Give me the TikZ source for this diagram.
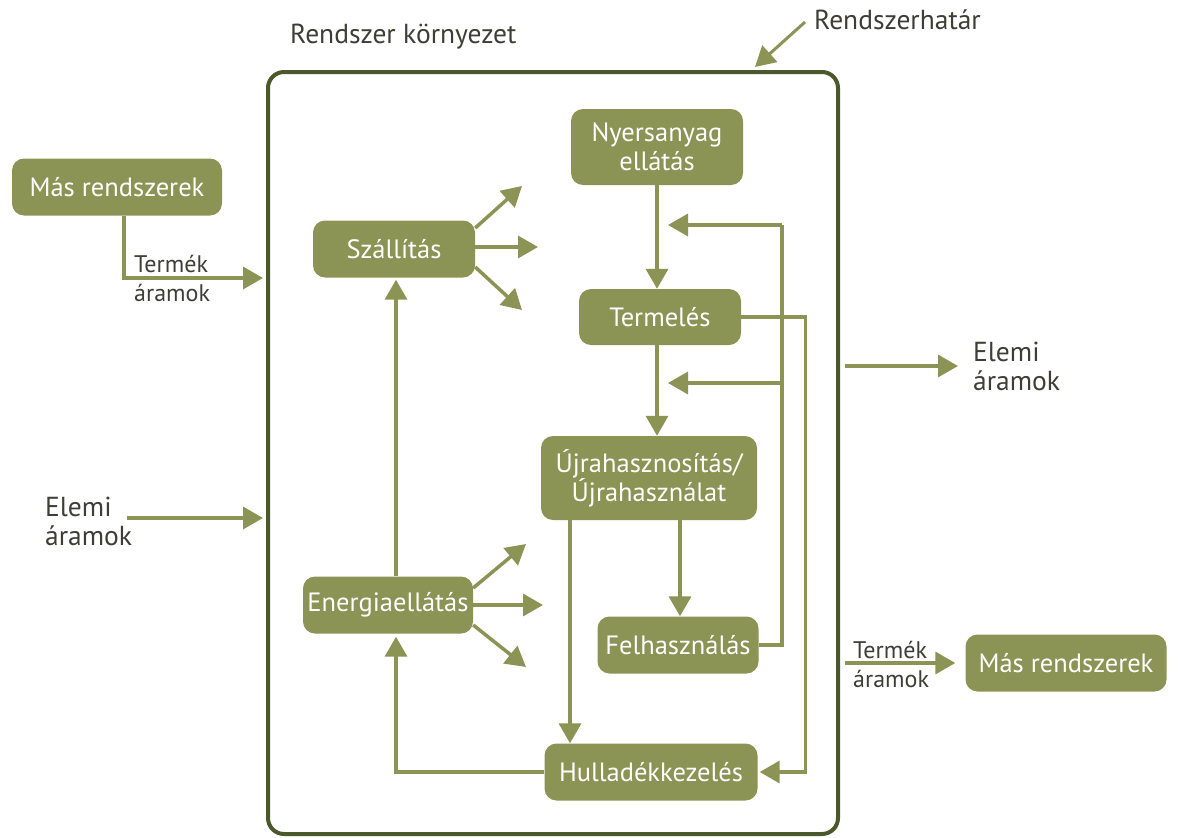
\documentclass[tikz,border=0pt]{standalone}
\usepackage{fontspec}
\setmainfont{PT Sans}
\usetikzlibrary{arrows.meta}
\definecolor{olivebox}{RGB}{139,148,84}
\definecolor{frameg}{RGB}{74,88,44}
\definecolor{txtc}{RGB}{62,62,54}
\begin{document}
\begin{tikzpicture}[x=1pt,y=-1pt,
  box/.style={fill=olivebox, text=white, rounded corners=12pt,
    font=\fontsize{26.5}{29}\selectfont, align=center, inner sep=0pt},
  flow/.style={draw=olivebox, line width=3.5pt, -{Triangle[width=22pt,length=20pt]}},
  plain/.style={draw=olivebox, line width=3.5pt},
  lbl/.style={text=txtc, font=\fontsize{27.5}{29}\selectfont, align=left, inner sep=0pt},
  slbl/.style={text=txtc, font=\fontsize{24}{26}\selectfont, inner sep=0pt}]
\useasboundingbox (0,0) rectangle (1179,838);

% frame
\node[draw=frameg, line width=4pt, rounded corners=16pt, minimum width=570pt,
  minimum height=762pt, inner sep=0pt] (frame) at (553,453) {};

% titles
\node[lbl, anchor=west] (env) at (290,37) {Rendszer környezet};
\node[lbl, anchor=west] (hat) at (814,20) {Rendszerhatár};
\coordinate (hatend) at (755,67);
\draw[flow, line width=3pt] ([xshift=-9pt,yshift=-2pt]hat.west) -- (hatend);

% boxes
\node[box, minimum width=210pt, minimum height=57pt] (mas1) at (117,187) {Más rendszerek};
\node[box, minimum width=162pt, minimum height=57pt] (szall) at (394,249) {Szállítás};
\node[box, minimum width=172pt, minimum height=76pt] (nyers) at (657,147) {Nyersanyag\\ellátás};
\node[box, minimum width=162pt, minimum height=56pt] (term) at (660,317) {Termelés};
\node[box, minimum width=216pt, minimum height=84pt] (ujra) at (649,478) {Újrahasznosítás/\\Újrahasználat};
\node[box, minimum width=161pt, minimum height=57pt] (felh) at (678,645) {Felhasználás};
\node[box, minimum width=213pt, minimum height=57pt] (hull) at (651,772) {Hulladékkezelés};
\node[box, minimum width=170pt, minimum height=57pt] (energ) at (388,605) {Energiaellátás};
\node[box, minimum width=201pt, minimum height=57pt] (mas2) at (1066,663) {Más rendszerek};

% left inputs
\coordinate (yl1) at (0,278);
\draw[flow] ([xshift=7pt]mas1.south) |- ([xshift=-3pt]frame.west |- yl1);
\node[slbl, anchor=west] (tl1) at (134,264) {Termék};
\node[slbl, anchor=west] (tl2) at (134,293) {áramok};

\node[lbl, anchor=west] (el1) at (45,521) {Elemi\\áramok};
\coordinate (yl2) at (127,518);
\draw[flow] (yl2) -- ([xshift=-3pt]frame.west |- yl2);

% right outputs
\node[lbl, anchor=west] (el2) at (973,366) {Elemi\\áramok};
\coordinate (yr1) at (0,366);
\draw[flow] ([xshift=5pt]frame.east |- yr1) -- ([xshift=-15pt]el2.west |- yr1);
\draw[flow] ([xshift=5pt]frame.east |- mas2.west) -- ([xshift=-10pt]mas2.west);
\node[slbl, anchor=west] (tr1) at (853,650) {Termék};
\node[slbl, anchor=west] (tr2) at (853,679) {áramok};

% Szállítás fan
\coordinate (s1) at (522,186);
\coordinate (s2) at (538,247);
\coordinate (s3) at (522,310);
\draw[flow] ([yshift=21pt]szall.east) -- (s1);
\draw[flow] (szall.east |- s2) -- (s2);
\draw[flow] ([yshift=-18pt]szall.east) -- (s3);

% Energia fan
\coordinate (e1) at (526,544);
\coordinate (e2) at (543,605);
\coordinate (e3) at (526,667);
\draw[flow] ([yshift=17pt]energ.east) -- (e1);
\draw[flow] (energ.east |- e2) -- (e2);
\draw[flow] ([yshift=-20pt]energ.east) -- (e3);

% vertical energy -> transport
\coordinate (v1) at (396,0);
\draw[flow] (energ.north -| v1) -- ([yshift=-2pt]szall.south -| v1);
\draw[flow] (hull.west) -| ([yshift=-3pt]energ.south -| v1);

% main chain
\coordinate (cx) at (657,0);
\draw[flow] (nyers.south -| cx) -- (term.north -| cx);
\draw[flow] (term.south -| cx) -- (ujra.north -| cx);
\coordinate (cf) at (680,0);
\draw[flow] (ujra.south -| cf) -- (felh.north -| cf);
\coordinate (ch) at (570,0);
\draw[flow] (ujra.south -| ch) -- (hull.north -| ch);

% feedback from use
\coordinate (fbt) at (782,225);
\coordinate (fbm) at (782,383);
\coordinate (t1) at (668,225);
\coordinate (t2) at (668,383);
\draw[plain] (felh.east) -| (fbt);
\draw[flow] (fbt) -- (t1);
\draw[flow] (fbm) -- (t2);

% production waste to waste management
\draw[flow] (term.east) -| ([xshift=48pt]hull.east) -- ([xshift=2pt]hull.east);
\end{tikzpicture}
\end{document}
